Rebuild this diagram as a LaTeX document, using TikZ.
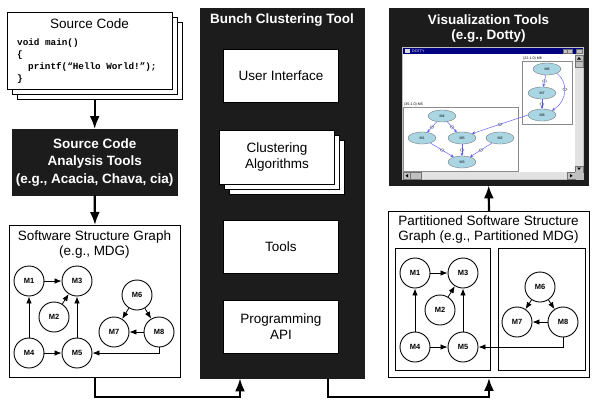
\documentclass[tikz,border=0pt]{standalone}
\usepackage{fontspec}
\setmainfont{Liberation Sans}
\setmonofont{Liberation Mono}
\usetikzlibrary{arrows.meta,shapes.geometric}

\definecolor{panelblack}{HTML}{1C1C1C}
\definecolor{winnavy}{HTML}{000080}
\definecolor{wingray}{HTML}{C0C0C0}
\definecolor{trough}{HTML}{E2E2E2}
\definecolor{dotfill}{HTML}{A9D6E2}
\definecolor{dotedge}{HTML}{5B5BFF}
\definecolor{clusterline}{HTML}{8A8A8A}

\tikzset{
  sheet/.style={draw=black, fill=white, line width=0.9pt, inner sep=0pt, anchor=north west},
  darkpanel/.style={fill=panelblack, draw=panelblack, inner sep=0pt, anchor=north west},
  plaintext/.style={font=\fontsize{13.5}{16}\selectfont, align=center, inner sep=0pt},
  boldwhite/.style={font=\fontsize{13.5}{16}\selectfont\bfseries, text=white, align=center, inner sep=0pt},
  codeline/.style={font=\fontsize{9.3}{12}\selectfont\ttfamily\bfseries, anchor=west, inner sep=0pt},
  modnode/.style={circle, draw=black, fill=white, line width=0.9pt, minimum size=30pt, inner sep=0pt, font=\fontsize{7.5}{9}\selectfont\bfseries},
  dep/.style={-{Latex[length=7pt,width=5.5pt]}, line width=0.8pt},
  flow/.style={-{Latex[length=13pt,width=10pt]}, line width=2.2pt},
  dnode/.style={ellipse, draw=black!60, line width=0.3pt, fill=dotfill, minimum width=28pt, minimum height=12pt, inner sep=0pt, font=\fontsize{3.6}{4}\selectfont},
  dedge/.style={-{Stealth[length=3.2pt,width=3pt]}, draw=dotedge, line width=0.45pt},
  dmark/.style={ellipse, draw=black!70, line width=0.3pt, minimum width=4pt, minimum height=2.6pt, inner sep=0pt},
  tinytext/.style={font=\fontsize{3.6}{4}\selectfont, inner sep=0pt},
  winbtn/.style={fill=wingray, draw=black!55, line width=0.3pt},
}

\begin{document}
\begin{tikzpicture}[x=1pt,y=-1pt]
\useasboundingbox[fill=white] (0,0) rectangle (592,400);

% ---------------- Source code stack ----------------
\node[sheet, minimum width=165pt, minimum height=77pt] (srcB) at (17,22) {};
\node[sheet, minimum width=165pt, minimum height=77pt] (srcA) at (12,17) {};
\node[sheet, minimum width=165pt, minimum height=77pt] (src) at (7,12) {};
\node[plaintext] (srcTitle) at (89.5,24) {Source Code};
\node[codeline] (code1) at (17,43) {void main()};
\node[codeline] (code2) at (17,55) {\{};
\node[codeline] (code3) at (28,67) {printf(“Hello World!”);};
\node[codeline] (code4) at (17,79) {\}};

% ---------------- Analysis tools ----------------
\node[darkpanel, minimum width=165pt, minimum height=66pt] (ana) at (12,129) {};
\node[boldwhite, font=\fontsize{13.5}{17.5}\selectfont\bfseries] (anaText) at (ana.center)
  {Source Code\\Analysis Tools\\(e.g., Acacia, Chava, cia)};

% ---------------- Software structure graph ----------------
\node[sheet, minimum width=171pt, minimum height=152pt] (ssg) at (9,225) {};
\node[plaintext, font=\fontsize{13.5}{15.5}\selectfont] (ssgTitle) at (94.5,244.5)
  {Software Structure Graph\\(e.g., MDG)};
\node[modnode] (sM1) at (29,281) {M1};
\node[modnode] (sM3) at (77,281) {M3};
\node[modnode] (sM2) at (54,317) {M2};
\node[modnode] (sM4) at (29,353) {M4};
\node[modnode] (sM5) at (77,353) {M5};
\node[modnode] (sM6) at (137,295) {M6};
\node[modnode] (sM7) at (114,332) {M7};
\node[modnode] (sM8) at (159,332) {M8};
\draw[dep] (sM1) -- (sM3);
\draw[dep] (sM2) -- (sM3);
\draw[dep] (sM4) -- (sM1);
\draw[dep] (sM5) -- (sM3);
\draw[dep] (sM4) -- (sM5);
\draw[dep] (sM6) -- (sM7);
\draw[dep] (sM6) -- (sM8);
\draw[dep] (sM8) -- (sM7);
\draw[dep] (sM8.south) |- (sM5.east);

% ---------------- Bunch clustering tool ----------------
\node[darkpanel, minimum width=164pt, minimum height=370pt] (bunch) at (200,8) {};
\node[boldwhite] (bunchTitle) at (282,20) {Bunch Clustering Tool};
\node[sheet, minimum width=115pt, minimum height=53pt] (ui) at (223,49) {};
\node[plaintext] at (ui.center) {User Interface};
\node[sheet, minimum width=115pt, minimum height=54pt] (algB) at (229,140) {};
\node[sheet, minimum width=115pt, minimum height=54pt] (algA) at (224,135) {};
\node[sheet, minimum width=115pt, minimum height=54pt] (alg) at (219,130) {};
\node[plaintext] at (alg.center) {Clustering\\Algorithms};
\node[sheet, minimum width=115pt, minimum height=53pt] (tools) at (223,220) {};
\node[plaintext] at (tools.center) {Tools};
\node[sheet, minimum width=115pt, minimum height=53pt] (api) at (223,300) {};
\node[plaintext] at (api.center) {Programming\\API};

% ---------------- Visualization tools ----------------
\node[darkpanel, minimum width=199pt, minimum height=177pt] (vis) at (389,8) {};
\node[boldwhite, font=\fontsize{13.5}{15.5}\selectfont\bfseries] (visTitle) at (488.5,28.5)
  {Visualization Tools\\(e.g., Dotty)};

% window frame, title bar and canvas
\fill[wingray] (402,47) rectangle (584,179.5);
\fill[winnavy] (403,48) rectangle (583,54);
\fill[white!85!black] (404.5,49.2) rectangle (410,52.8);
\node[tinytext, text=white, anchor=west] (winTitle) at (412,51) {DOTTY};
\filldraw[winbtn] (563,49) rectangle (567.5,53);
\filldraw[winbtn] (567.5,49) rectangle (572,53);
\filldraw[winbtn] (576,49) rectangle (582,53);
\fill[white] (403,54) rectangle (575,172);
% scroll bars
\fill[trough] (575,54) rectangle (583,172);
\fill[trough] (403,172) rectangle (575,179);
\filldraw[winbtn] (575,55) rectangle (583,61);
\fill[black] (577,59.5) -- (581,59.5) -- (579,57) -- cycle;
\filldraw[winbtn] (575,61) rectangle (583,67);
\filldraw[winbtn] (575,166) rectangle (583,172);
\fill[black] (577,167.5) -- (581,167.5) -- (579,170) -- cycle;
\filldraw[winbtn] (403,172.5) rectangle (410,179);
\fill[black] (408,174) -- (408,177.5) -- (405.5,175.75) -- cycle;
\filldraw[winbtn] (410,172.5) rectangle (421,179);
\filldraw[winbtn] (567,172.5) rectangle (575,179);
\fill[black] (570,174) -- (570,177.5) -- (572.5,175.75) -- cycle;
\fill[wingray] (575,172) rectangle (583,179);

% clusters
\draw[clusterline, line width=0.8pt] (522,61) rectangle (572,124);
\node[tinytext, anchor=south west] (cl1) at (523,60) {(22-1.0) M6};
\draw[clusterline, line width=0.8pt] (403.5,107) rectangle (518,171);
\node[tinytext, anchor=south west] (cl2) at (404,106) {(35-1.0) M5};

% dotty graph
\node[dnode] (dM6) at (547,69) {M6};
\node[dnode] (dM7) at (542,93) {M7};
\node[dnode] (dM8) at (542,115) {M8};
\node[dnode] (dM4) at (442,116) {M4};
\node[dnode] (dM1) at (422,138) {M1};
\node[dnode] (dM5) at (462,138) {M5};
\node[dnode] (dM2) at (500,138) {M2};
\node[dnode] (dM3) at (462,162) {M3};
\draw[dedge] (dM6) -- node[dmark] {} (dM7);
\draw[dedge] (dM7) -- node[dmark] {} (dM8);
\draw[dedge] (dM6.south east) .. controls (568,82) and (568,100) .. node[dmark, pos=0.45] {} (dM8.north east);
\draw[dedge] (dM8.west) -- node[dmark] {} (dM5.north east);
\draw[dedge] (dM4) -- node[dmark] {} (dM1);
\draw[dedge] (dM4) -- node[dmark] {} (dM5);
\draw[dedge] (dM1) -- node[dmark] {} (dM3);
\draw[dedge] (dM5) -- node[dmark] {} (dM3);
\draw[dedge] (dM2) -- node[dmark] {} (dM3);

% ---------------- Partitioned software structure graph ----------------
\node[sheet, minimum width=201pt, minimum height=166pt] (part) at (388,211) {};
\node[plaintext, font=\fontsize{13.5}{15.5}\selectfont] (partTitle) at (488.5,229.5)
  {Partitioned Software Structure\\Graph (e.g., Partitioned MDG)};
\node[sheet, minimum width=95pt, minimum height=122pt] (clusA) at (395,248) {};
\node[sheet, minimum width=87pt, minimum height=122pt] (clusB) at (498,248) {};
\node[modnode] (pM1) at (415,273) {M1};
\node[modnode] (pM3) at (463,273) {M3};
\node[modnode] (pM2) at (440,310) {M2};
\node[modnode] (pM4) at (415,347) {M4};
\node[modnode] (pM5) at (463,347) {M5};
\node[modnode] (pM6) at (540,287) {M6};
\node[modnode] (pM7) at (517,322) {M7};
\node[modnode] (pM8) at (563,322) {M8};
\draw[dep] (pM1) -- (pM3);
\draw[dep] (pM2) -- (pM3);
\draw[dep] (pM4) -- (pM1);
\draw[dep] (pM5) -- (pM3);
\draw[dep] (pM4) -- (pM5);
\draw[dep] (pM6) -- (pM7);
\draw[dep] (pM6) -- (pM8);
\draw[dep] (pM8) -- (pM7);
\draw[dep] (pM8.south) |- (pM5.east);

% ---------------- Data flow between the tools ----------------
\draw[flow] (ana.north |- srcB.south) -- (ana.north);
\draw[flow] (ana.south) -- (ssg.north);
\coordinate (railA) at (240,397);
\coordinate (railB) at (328,397);
\draw[flow] (ssg.south) |- (railA) -- (railA |- bunch.south);
\draw[flow] (railB |- bunch.south) -- (railB) -| (part.south);
\draw[flow] (part.north) -- (vis.south);
\end{tikzpicture}
\end{document}
